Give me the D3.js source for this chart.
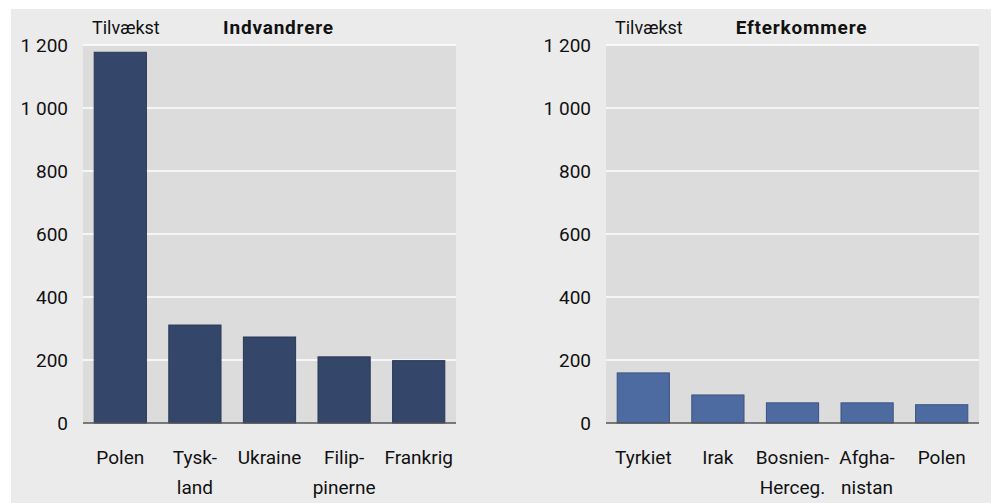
<!DOCTYPE html>
<html lang="da">
<head>
<meta charset="UTF-8">
<title>Tilvækst</title>
<script src="https://cdn.jsdelivr.net/npm/d3@7"></script>
<style>
  body { margin: 0; background: #fff; }
  text { font-family: Roboto, sans-serif; fill: #111; }
</style>
</head>
<body>
<div id="root"></div>
<script>
// data
var indvCountries = [["Polen"], ["Tysk-", "land"], ["Ukraine"], ["Filip-", "pinerne"], ["Frankrig"]]
var indvValues = [1177, 311, 273, 210, 198]
var efterCountries = [["Tyrkiet"], ["Irak"], ["Bosnien-", "Herceg."], ["Afgha-", "nistan"], ["Polen"]]
var efterValues = [159, 89, 64, 64, 58]
var yTicks = [0, 200, 400, 600, 800, 1000, 1200]

var width = 994
var height = 503
var fontSize = '19px'

var svg = d3.select('#root').append('svg')
    .attr('width', width)
    .attr('height', height)

// outer grey panel
svg.append('rect')
    .attr('x', 11).attr('y', 9)
    .attr('width', 980).attr('height', 494)
    .attr('fill', '#ebebeb')

var y = d3.scaleLinear().domain([0, 1200]).range([423, 45])

function fmt(v) {
    return d3.format(',')(v).replace(',', ' ')
}

function drawPanel(x0, x1, labels, values, title, barColor, barStroke) {
    var g = svg.append('g')
    var names = labels.map(function(d) { return d.join(' ') })
    var x = d3.scaleBand().domain(names).range([x0, x1]).paddingInner(0.3).paddingOuter(0.15)

    g.append('rect')
        .attr('x', x0).attr('y', y(1200))
        .attr('width', x1 - x0).attr('height', y(0) - y(1200))
        .attr('fill', '#dcdcdc')

    // gridlines
    g.selectAll('line.grid')
        .data(yTicks.filter(function(d) { return d > 0 }))
        .enter().append('line')
            .attr('x1', x0).attr('x2', x1)
            .attr('y1', function(d) { return y(d) })
            .attr('y2', function(d) { return y(d) })
            .attr('stroke', '#fff')
            .attr('stroke-width', 1.5)

    var yAxis = d3.axisLeft(y).tickValues(yTicks).tickSize(0).tickPadding(0).tickFormat(fmt)
    var ya = g.append('g').attr('transform', 'translate(' + (x0 - 15) + ',0)').call(yAxis)
    ya.select('.domain').remove()
    ya.selectAll('text').style('font-size', fontSize).attr('fill', '#111')
        .style('font-family', 'Roboto, sans-serif')

    g.selectAll('rect.bar')
        .data(values)
        .enter().append('rect')
            .attr('class', 'bar')
            .attr('x', function(d, i) { return x(names[i]) })
            .attr('y', function(d) { return y(d) })
            .attr('width', x.bandwidth())
            .attr('height', function(d) { return y(0) - y(d) })
            .attr('fill', barColor)
            .attr('stroke', barStroke)
            .attr('stroke-width', 1)

    // zero line
    g.append('line')
        .attr('x1', x0).attr('x2', x1)
        .attr('y1', y(0)).attr('y2', y(0))
        .attr('stroke', '#555').attr('stroke-width', 1.5)

    // category labels, two lines where hyphenated
    var lbl = g.selectAll('text.cat')
        .data(labels)
        .enter().append('text')
            .attr('class', 'cat')
            .attr('text-anchor', 'middle')
            .style('font-size', fontSize)
            .attr('x', function(d, i) { return x(names[i]) + x.bandwidth() / 2 })
            .attr('y', 464)
    lbl.selectAll('tspan')
        .data(function(d) { return d })
        .enter().append('tspan')
            .attr('x', function() { return d3.select(this.parentNode).attr('x') })
            .attr('dy', function(d, i) { return i === 0 ? 0 : 30 })
            .text(function(d) { return d })

    g.append('text')
        .attr('x', x0 + 9).attr('y', 34)
        .style('font-size', '18px')
        .text('Tilvækst')

    g.append('text')
        .attr('x', (x0 + x1) / 2 + 9).attr('y', 34)
        .attr('text-anchor', 'middle')
        .style('font-size', fontSize)
        .style('font-weight', 'bold')
        .style('letter-spacing', '0.8px')
        .text(title)
}

drawPanel(83, 456, indvCountries, indvValues, 'Indvandrere', '#34466a', '#2a3955')
drawPanel(606, 979, efterCountries, efterValues, 'Efterkommere', '#4d6ba1', '#3b5380')
</script>
</body>
</html>
